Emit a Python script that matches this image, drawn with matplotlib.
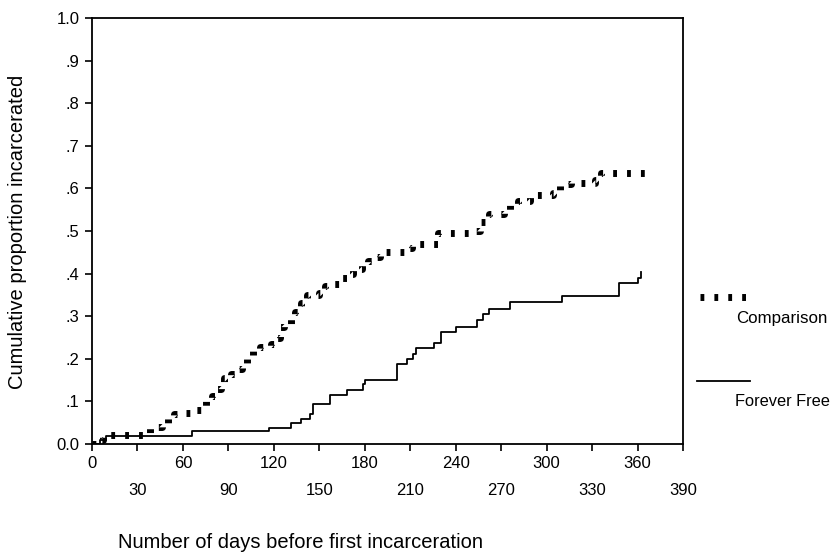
import matplotlib as mpl
import matplotlib.pyplot as plt
from matplotlib.lines import Line2D
import numpy as np

mpl.rcParams['font.family'] = ['Liberation Sans', 'DejaVu Sans']

# Kaplan-Meier style step data
comp_days = [0, 4, 7, 38, 46, 50, 54, 60, 65, 72, 75, 79, 82, 85, 87, 92, 96, 99,
             102, 106, 111, 118, 121, 124, 127, 131, 134, 138, 142, 150, 154, 160,
             164, 168, 172, 178, 182, 186, 190, 206, 211, 228, 250, 256, 262, 272,
             276, 281, 289, 304, 309, 316, 332, 336, 340, 366]
comp_vals = [0.0, 0.01, 0.02, 0.04, 0.045, 0.06, 0.07, 0.072, 0.08, 0.085, 0.10,
             0.113, 0.129, 0.142, 0.156, 0.165, 0.176, 0.188, 0.20, 0.22, 0.227,
             0.235, 0.25, 0.275, 0.28, 0.30, 0.31, 0.33, 0.35, 0.355, 0.37, 0.375,
             0.39, 0.40, 0.41, 0.42, 0.43, 0.44, 0.45, 0.46, 0.47, 0.495, 0.50,
             0.52, 0.54, 0.545, 0.56, 0.57, 0.585, 0.59, 0.61, 0.612, 0.62, 0.635,
             0.635, 0.635]

ff_days = [0, 5, 9, 66, 117, 131, 138, 144, 146, 157, 168, 179, 180, 201, 208,
           212, 214, 226, 230, 240, 254, 258, 262, 276, 310, 348, 360, 362]
ff_vals = [0.0, 0.009, 0.018, 0.030, 0.037, 0.049, 0.059, 0.07, 0.094, 0.116,
           0.127, 0.141, 0.151, 0.188, 0.2, 0.211, 0.225, 0.236, 0.264, 0.275,
           0.291, 0.304, 0.318, 0.334, 0.347, 0.378, 0.389, 0.404]

major_x = [0, 60, 120, 180, 240, 300, 360]
minor_x = [30, 90, 150, 210, 270, 330, 390]
y_ticks = np.arange(0, 11) / 10
y_labels = ["0.0", ".1", ".2", ".3", ".4", ".5", ".6", ".7", ".8", ".9", "1.0"]

fig = plt.figure(figsize=(8.34, 5.54), dpi=100)
ax = fig.add_axes([92 / 834, 1 - 444 / 554, (683 - 92) / 834, (444 - 18) / 554])

ax.step(comp_days, comp_vals, where='post', color='black', lw=5,
        dashes=(0.55, 1.45), dash_capstyle='butt', solid_joinstyle='miter')
ax.step(ff_days, ff_vals, where='post', color='black', lw=1.3)

ax.set_xlim(0, 390)
ax.set_ylim(0, 1)

ax.set_xticks(major_x)
ax.set_xticks(minor_x, minor=True)
ax.set_xticklabels([str(v) for v in major_x])
ax.set_xticklabels([str(v) for v in minor_x], minor=True)
ax.tick_params(axis='x', which='major', direction='out', length=5, width=1.2,
               pad=4, labelsize=12)
ax.tick_params(axis='x', which='minor', direction='out', length=5, width=1.2,
               pad=23, labelsize=12)
ax.set_yticks(y_ticks)
ax.set_yticklabels(y_labels)
ax.tick_params(axis='y', direction='out', length=5, width=1.2, pad=4,
               labelsize=12)

for s in ax.spines.values():
    s.set_linewidth(1.3)

fig.text(18 / 834, 1 - 232 / 554, "Cumulative proportion incarcerated",
         rotation=90, ha='center', va='center', fontsize=14.5)
fig.text(118 / 834, 1 - 543 / 554, "Number of days before first incarceration",
         ha='left', va='center', fontsize=14.5)

# legend drawn by hand, line above the label
fig.add_artist(Line2D([700 / 834, 750 / 834], [1 - 297 / 554, 1 - 297 / 554],
                      color='black', lw=5, dashes=(0.55, 1.45),
                      dash_capstyle='butt', transform=fig.transFigure))
fig.text(736 / 834, 1 - 318 / 554, "Comparison", ha='left', va='center',
         fontsize=12.2)
fig.add_artist(Line2D([697 / 834, 750 / 834], [1 - 381 / 554, 1 - 381 / 554],
                      color='black', lw=1.3, transform=fig.transFigure))
fig.text(735 / 834, 1 - 401 / 554, "Forever Free", ha='left', va='center',
         fontsize=11.8)

fig.savefig("out.png", dpi=100)
